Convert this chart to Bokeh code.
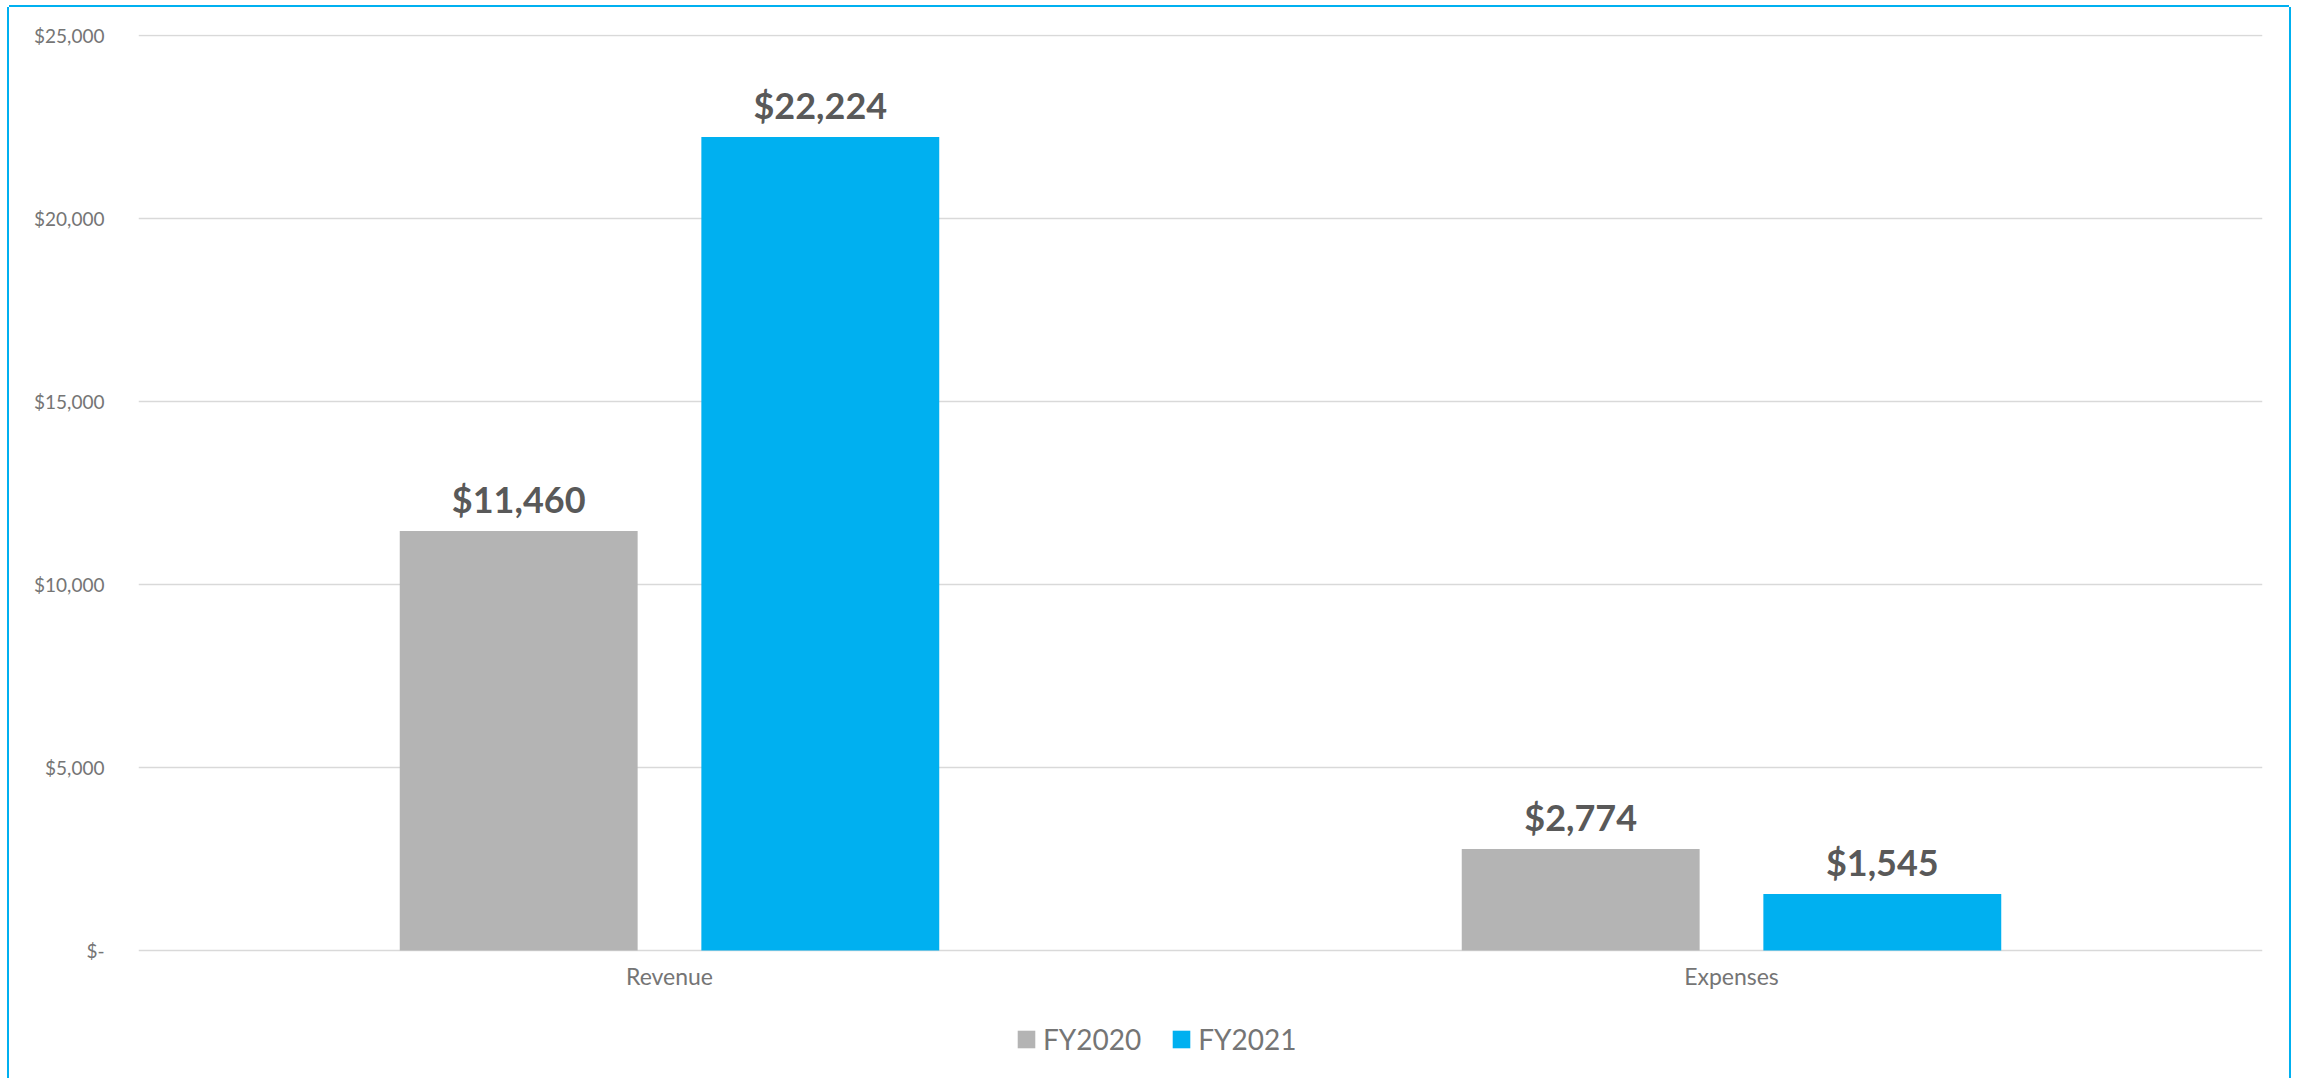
from bokeh.plotting import figure
from bokeh.models import (ColumnDataSource, FactorRange, FixedTicker, Legend, LegendItem)
from bokeh.transform import dodge
from bokeh.core.properties import value
from bokeh.embed import file_html
from bokeh.resources import INLINE

# ---- data ----
categories = ["Revenue", "Expenses"]
fy2020 = [11460, 2774]
fy2021 = [22224, 1545]
series_names = ["FY2020", "FY2021"]
y_ticks = [0, 5000, 10000, 15000, 20000, 25000]
y_tick_labels = ["$-", "$5,000", "$10,000", "$15,000", "$20,000", "$25,000"]

GRAY = "#B4B4B4"
BLUE = "#00B0F0"
FONT = "Lato"

src = ColumnDataSource(dict(
    cat=categories,
    fy2020=fy2020,
    fy2021=fy2021,
    lab2020=["$" + f"{v:,}" for v in fy2020],
    lab2021=["$" + f"{v:,}" for v in fy2021],
))

# frame spans down to the bottom of the page; the value axis keeps 0 at the same place
p = figure(x_range=FactorRange(*categories, range_padding=0), y_range=(-3497, 25027),
           width=2280, height=1071, output_backend="svg", toolbar_location=None,
           min_border_left=129, min_border_right=27, min_border_top=27, min_border_bottom=0)
p.margin = (7, 0, 0, 9)
p.styles = {"box-shadow": "-2px 0 0 0 #00B0F0, 2px 0 0 0 #00B0F0, 0 -2px 0 0 #00B0F0"}
p.outline_line_color = None
p.background_fill_color = "white"

r1 = p.vbar(x=dodge("cat", -0.142, range=p.x_range), top="fy2020", bottom=0, width=0.224,
            source=src, fill_color=GRAY, line_color=None)
r2 = p.vbar(x=dodge("cat", 0.142, range=p.x_range), top="fy2021", bottom=0, width=0.224,
            source=src, fill_color=BLUE, line_color=None)

for xoff, col in [(-0.142, "fy2020"), (0.142, "fy2021")]:
    p.text(x=dodge("cat", xoff, range=p.x_range), y=col, text="lab" + col[2:], source=src,
           text_font=value(FONT), text_font_style="bold", text_font_size="36px",
           text_color="#595959", text_align="center", text_baseline="alphabetic",
           y_offset=-32)

# axes
p.yaxis.ticker = FixedTicker(ticks=y_ticks)
p.yaxis.major_label_overrides = {t: l for t, l in zip(y_ticks, y_tick_labels)}
p.yaxis.axis_line_color = None
p.yaxis.major_tick_line_color = None
p.yaxis.minor_tick_line_color = None
p.yaxis.major_label_standoff = 28
p.yaxis.major_label_text_font = FONT
p.yaxis.major_label_text_font_size = "19px"
p.yaxis.major_label_text_color = "#757575"

p.xaxis.fixed_location = 0
p.xaxis.axis_line_color = None
p.xaxis.major_tick_line_color = None
p.xaxis.minor_tick_line_color = None
p.xaxis.major_label_standoff = 5
p.xaxis.major_label_text_font = FONT
p.xaxis.major_label_text_font_size = "23px"
p.xaxis.major_label_text_color = "#757575"

p.xgrid.grid_line_color = None
p.ygrid.grid_line_color = "#D9D9D9"
p.ygrid.grid_line_width = 1.5

legend = Legend(items=[LegendItem(label=series_names[0], renderers=[r1]),
                       LegendItem(label=series_names[1], renderers=[r2])],
                location=(877, 22), orientation="horizontal")
legend.glyph_width = 22
legend.glyph_height = 22
legend.label_standoff = 6
legend.spacing = 29
legend.padding = 0
legend.margin = 0
legend.border_line_alpha = 0
legend.background_fill_alpha = 0
legend.label_text_font = FONT
legend.label_text_font_size = "28px"
legend.label_text_color = "#757575"
p.add_layout(legend, "center")

open("out.html", "w").write(file_html(p, INLINE))
